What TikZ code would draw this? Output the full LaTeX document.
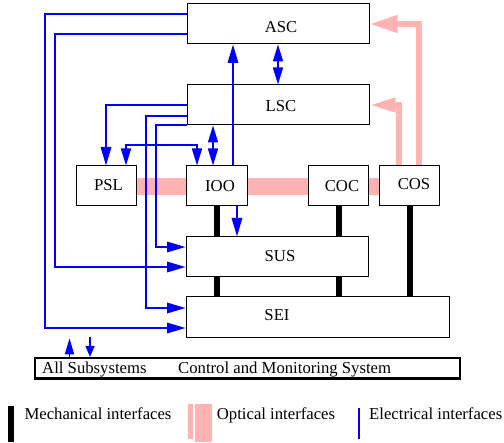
\documentclass[tikz,border=0pt]{standalone}
\usepackage{fontspec}
\setmainfont{Liberation Serif}
\usetikzlibrary{arrows.meta}
\definecolor{elecblue}{RGB}{0,0,255}
\definecolor{optpink}{RGB}{255,178,178}
\begin{document}
\begin{tikzpicture}[x=1pt,y=-1pt,
  font=\fontsize{16.7}{20}\selectfont,
  box/.style={draw=black, line width=1pt, fill=white, inner sep=0pt, rectangle},
  lbl/.style={inner sep=0pt, anchor=base},
  lblw/.style={inner sep=0pt, anchor=base west},
  elec/.style={draw=elecblue, line width=1.6pt},
  elecarrow/.style={elec, -{Triangle[length=18.5pt,width=10.5pt]}},
  elecboth/.style={elec, {Triangle[length=17pt,width=10pt]}-{Triangle[length=17pt,width=10pt]}},
  optarrow/.style={draw=optpink, line width=5.5pt},
  band/.style={draw=optpink, line width=17pt},
  mech/.style={draw=black, line width=6.5pt}]
\useasboundingbox (0,0) rectangle (504,443);

% optical band behind the boxes
\coordinate (bandL) at (136,186.5);
\coordinate (bandR) at (379,186.5);
\draw[band] (bandL) -- (bandR);

% boxes
\node[box, minimum width=182pt, minimum height=40pt] (ASC) at (278,24) {};
\node[box, minimum width=182pt, minimum height=40pt] (LSC) at (278,105) {};
\node[box, minimum width=60pt, minimum height=40pt] (PSL) at (106,186) {};
\node[box, minimum width=61pt, minimum height=40pt] (IOO) at (216.5,186) {};
\node[box, minimum width=60pt, minimum height=40pt] (COC) at (338,186) {};
\node[box, minimum width=60pt, minimum height=40pt] (COS) at (409,186) {};
\node[box, minimum width=182pt, minimum height=40pt] (SUS) at (277,257) {};
\node[box, minimum width=263pt, minimum height=41pt] (SEI) at (317.5,317.5) {};
\node[box, line width=2.2pt, minimum width=425pt, minimum height=20.5pt] (ALL) at (247.5,368.3) {};

% labels
\node[lbl] (ASCt) at (281,32.3) {ASC};
\node[lbl] (LSCt) at (281,111.7) {LSC};
\node[lbl] (PSLt) at (108.5,190.5) {PSL};
\node[lbl] (IOOt) at (220,192) {IOO};
\node[lbl] (COCt) at (342,191.5) {COC};
\node[lbl] (COSt) at (414,190) {COS};
\node[lbl] (SUSt) at (280,261.7) {SUS};
\node[lbl] (SEIt) at (277,320.7) {SEI};
\node[lblw] (ALLt1) at (42,373.3) {All Subsystems};
\node[lblw] (ALLt2) at (178,373.3) {Control and Monitoring System};

% optical arrows
\draw[optarrow, -{Triangle[length=28pt,width=16.5pt]}] (COS.north -| 419,0) |- (ASC.east);
\draw[optarrow, -{Triangle[length=26pt,width=13.5pt]}] (COS.north -| 399,0) |- (LSC.east);

% mechanical interfaces
\draw[mech] (IOO.south -| 217,0) -- (SUS.north -| 217,0);
\draw[mech] (COC.south -| 339,0) -- (SUS.north -| 339,0);
\draw[mech] (SUS.south -| 217,0) -- (SEI.north -| 217,0);
\draw[mech] (SUS.south -| 339,0) -- (SEI.north -| 339,0);
\draw[mech] (COS.south -| 410,0) -- (SEI.north -| 410,0);

% electrical interfaces
\draw[elecarrow] (ASC.west |- 0,14) -| (45,328) -- (SEI.west |- 0,328);
\draw[elecarrow] (ASC.west |- 0,34) -| (55,267) -- (SUS.west |- 0,267);
\draw[elecarrow] (LSC.west) -| (PSL.north);
\draw[elecarrow] (LSC.west |- 0,116) -| (146,308) -- (SEI.west |- 0,308);
\draw[elecarrow] (LSC.west |- 0,125.3) -| (156,247) -- (SUS.west |- 0,247);
\draw[elecboth] (PSL.north -| 126,0) |- (197,145) -- (IOO.north -| 197,0);
\draw[elecboth] (LSC.south -| 213,0) -- (IOO.north -| 213,0);
\draw[elecboth] (ASC.south) -- (LSC.north);
\draw[elecarrow] (IOO.north -| 233,0) -- (ASC.south -| 233,0);
\draw[elecarrow] (IOO.south -| 237,0) -- (SUS.north -| 237,0);
\coordinate (allup) at (69.5,338.3);
\coordinate (alldn) at (90,337);
\draw[elec, -{Triangle[length=16pt,width=9pt]}] (ALL.north -| 69.5,0) -- (allup);
\draw[elec, -{Triangle[length=11pt,width=9pt]}] (alldn) -- (ALL.north -| 90,0);

% legend
\draw[line width=5.8pt] (11.2,406) -- (11.2,441.7);
\node[lblw] (legM) at (24.3,420) {Mechanical interfaces};
\fill[optpink] (188.3,404) rectangle (192.7,439.3);
\fill[optpink] (195,404) rectangle (212,441.7);
\node[lblw] (legO) at (216.7,420) {Optical interfaces};
\draw[elecblue, line width=1.7pt] (359.2,408.3) -- (359.2,439.3);
\node[lblw] (legE) at (369,420) {Electrical interfaces};
\end{tikzpicture}
\end{document}
